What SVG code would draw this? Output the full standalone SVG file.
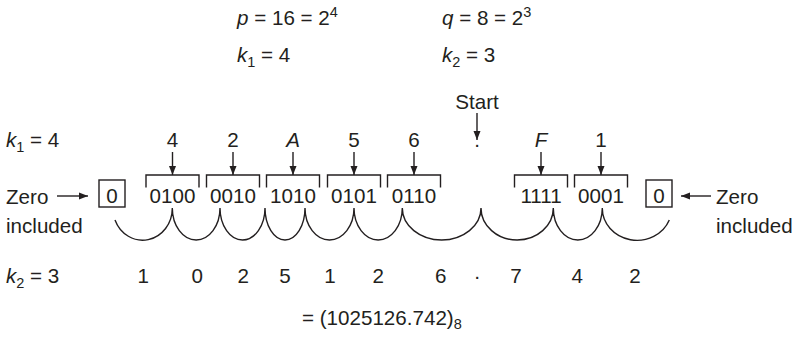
<svg xmlns="http://www.w3.org/2000/svg" width="796" height="346" viewBox="0 0 796 346">
<defs>
<marker id="ah" markerUnits="userSpaceOnUse" markerWidth="10" markerHeight="8" refX="9" refY="4" orient="auto">
<path d="M0,0.5 L9,4 L0,7.5 Z" fill="#231f20"/>
</marker>
<style>
text{font-family:"Liberation Sans",Arial,sans-serif;font-size:20.6px;fill:#231f20}
.c{text-anchor:middle}
.i{font-style:italic}
.s{font-size:14.5px}
.ln{stroke:#231f20;stroke-width:1.4;fill:none}
.ar{stroke:#231f20;stroke-width:1.4;fill:none;marker-end:url(#ah)}
</style>
</defs>
<rect width="796" height="346" fill="#fff"/>
<g id="header">
<text x="237" y="25"><tspan class="i">p</tspan> = 16 = 2<tspan class="s" dy="-8">4</tspan></text>
<text x="442" y="25"><tspan class="i">q</tspan> = 8 = 2<tspan class="s" dy="-8">3</tspan></text>
<text x="237" y="62"><tspan class="i">k</tspan><tspan class="s" dy="5">1</tspan><tspan dy="-5"> = 4</tspan></text>
<text x="442" y="62"><tspan class="i">k</tspan><tspan class="s" dy="5">2</tspan><tspan dy="-5"> = 3</tspan></text>
</g>
<g id="row-labels">
<text x="6" y="147"><tspan class="i">k</tspan><tspan class="s" dy="5">1</tspan><tspan dy="-5"> = 4</tspan></text>
<text x="6" y="283"><tspan class="i">k</tspan><tspan class="s" dy="5">2</tspan><tspan dy="-5"> = 3</tspan></text>
</g>
<g id="start">
<text class="c" x="477" y="109">Start</text>
<text class="c" x="477" y="147">.</text>
</g>
<g id="zero-left">
<text x="6" y="204">Zero</text>
<text x="6" y="233">included</text>
<rect class="ln" x="99" y="180" width="26" height="27"/>
<text class="c" x="112" y="203">0</text>
</g>
<g id="zero-right">
<text x="716" y="204">Zero</text>
<text x="716" y="233">included</text>
<rect class="ln" x="646" y="180" width="26" height="27"/>
<text class="c" x="659" y="203">0</text>
</g>
<g id="nib-4">
<text class="c" x="172.5" y="147">4</text>
<path class="ln" d="M146,187.5 V175 H199 V187.5"/>
<text class="c" x="172.5" y="203">0100</text>
</g>
<g id="nib-2">
<text class="c" x="233" y="147">2</text>
<path class="ln" d="M206.5,187.5 V175 H259.5 V187.5"/>
<text class="c" x="233" y="203">0010</text>
</g>
<g id="nib-A">
<text class="c i" x="293" y="147">A</text>
<path class="ln" d="M266.5,187.5 V175 H319.5 V187.5"/>
<text class="c" x="293" y="203">1010</text>
</g>
<g id="nib-5">
<text class="c" x="354" y="147">5</text>
<path class="ln" d="M327.5,187.5 V175 H380.5 V187.5"/>
<text class="c" x="354" y="203">0101</text>
</g>
<g id="nib-6">
<text class="c" x="414" y="147">6</text>
<path class="ln" d="M387.5,187.5 V175 H440.5 V187.5"/>
<text class="c" x="414" y="203">0110</text>
</g>
<g id="nib-F">
<text class="c i" x="541" y="147">F</text>
<path class="ln" d="M514.5,187.5 V175 H567.5 V187.5"/>
<text class="c" x="541" y="203">1111</text>
</g>
<g id="nib-1">
<text class="c" x="601" y="147">1</text>
<path class="ln" d="M574.5,187.5 V175 H627.5 V187.5"/>
<text class="c" x="601" y="203">0001</text>
</g>
<g id="octal-digits">
<text class="c" x="143.3" y="283">1</text>
<text class="c" x="197.3" y="283">0</text>
<text class="c" x="243.3" y="283">2</text>
<text class="c" x="285" y="283">5</text>
<text class="c" x="330" y="283">1</text>
<text class="c" x="378.3" y="283">2</text>
<text class="c" x="440.7" y="283">6</text>
<text class="c" x="477.3" y="283">·</text>
<text class="c" x="516" y="283">7</text>
<text class="c" x="577.3" y="283">4</text>
<text class="c" x="635" y="283">2</text>
</g>
<g id="result">
<text x="302" y="325">= (1025126.742)<tspan class="s" dy="4">8</tspan></text>
</g>
<g id="connectors">
<line class="ar" x1="57" y1="196" x2="88" y2="196"/>
<line class="ar" x1="711" y1="196" x2="681" y2="196"/>
<line class="ar" x1="477" y1="113" x2="477" y2="140"/>
<line class="ar" x1="172.5" y1="152" x2="172.5" y2="175"/>
<line class="ar" x1="233" y1="152" x2="233" y2="175"/>
<line class="ar" x1="293" y1="152" x2="293" y2="175"/>
<line class="ar" x1="354" y1="152" x2="354" y2="175"/>
<line class="ar" x1="414" y1="152" x2="414" y2="175"/>
<line class="ar" x1="541" y1="152" x2="541" y2="175"/>
<line class="ar" x1="601" y1="152" x2="601" y2="175"/>
<path class="ln" d="M115,220 A29.7,32 0 0 0 172.3,208 A23.85,32 0 0 0 220,208 A22.5,32 0 0 0 265,208 A20,32 0 0 0 305,208 A24.5,32 0 0 0 354,208 A24.15,32 0 0 0 402.3,208 A39.35,32 0 0 0 481,208 A36.15,32 0 0 0 553.3,208 A24.5,32 0 0 0 602.3,208 A34.7,32 0 0 0 669.3,220"/>
</g>
</svg>
